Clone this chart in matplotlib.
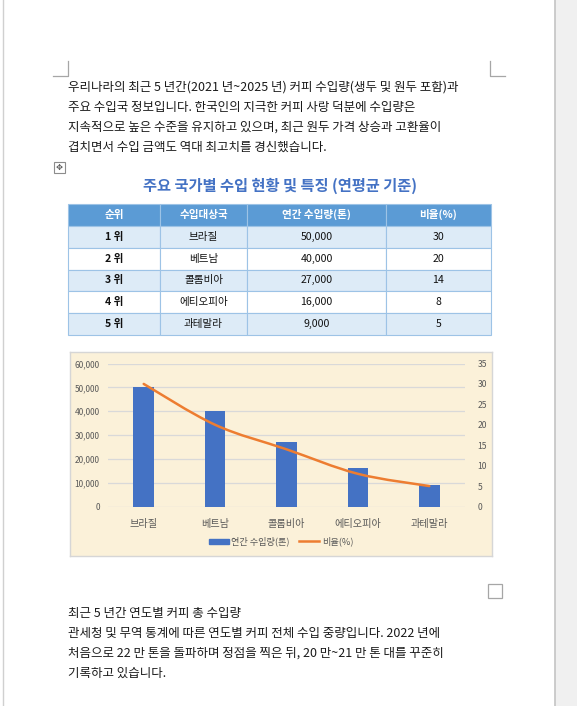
import numpy as np
import matplotlib.pyplot as plt
from matplotlib.path import Path
from matplotlib.patches import PathPatch, Rectangle
from matplotlib.lines import Line2D
from matplotlib.ticker import FuncFormatter

plt.rcParams['font.family'] = ['Noto Sans CJK KR', 'DejaVu Sans']

# data
countries = ['브라질', '베트남', '콜롬비아', '에티오피아', '과테말라']
ranks = ['1 위', '2 위', '3 위', '4 위', '5 위']
volume = [50000, 40000, 27000, 16000, 9000]
share = [30, 20, 14, 8, 5]
col_labels = ['순위', '수입대상국', '연간 수입량(톤)', '비율(%)']

intro_lines = [
    '우리나라의 최근 5 년간(2021 년~2025 년) 커피 수입량(생두 및 원두 포함)과',
    '주요 수입국 정보입니다. 한국인의 지극한 커피 사랑 덕분에 수입량은',
    '지속적으로 높은 수준을 유지하고 있으며, 최근 원두 가격 상승과 고환율이',
    '겹치면서 수입 금액도 역대 최고치를 경신했습니다.',
]
outro_lines = [
    '최근 5 년간 연도별 커피 총 수입량',
    '관세청 및 무역 통계에 따른 연도별 커피 전체 수입 중량입니다. 2022 년에',
    '처음으로 22 만 톤을 돌파하며 정점을 찍은 뒤, 20 만~21 만 톤 대를 꾸준히',
    '기록하고 있습니다.',
]
title = '주요 국가별 수입 현황 및 특징 (연평균 기준)'

W, H = 577, 706
fig = plt.figure(figsize=(W / 100, H / 100), dpi=100)


def rect(x0, y0, x1, y1):
    # pixel box -> figure fraction
    return [x0 / W, 1 - y1 / H, (x1 - x0) / W, (y1 - y0) / H]


# page layer in pixel coords
page = fig.add_axes([0, 0, 1, 1])
page.set_xlim(0, W)
page.set_ylim(H, 0)
page.axis('off')
page.add_patch(Rectangle((555, 0), 22, H, color='#f0f0f0', lw=0))
page.plot([554.5, 554.5], [0, H], color='#c4c4c4', lw=1.2)
page.plot([3, 3], [0, H], color='#d0d0d0', lw=1)
# margin marks
page.plot([53, 68, 68], [76, 76, 61], color='#a6a6a6', lw=0.9)
page.plot([490, 490, 505], [61, 76, 76], color='#a6a6a6', lw=0.9)
page.add_patch(Rectangle((488, 584), 14, 14, fill=False, ec='#a6a6a6', lw=0.9))
# table move handle
page.add_patch(Rectangle((54, 162), 11, 11, fill=False, ec='#8c8c8c', lw=0.8))
page.text(59.5, 167.5, '✥', ha='center', va='center', fontsize=6, color='#555555',
          family=['DejaVu Sans'])

for i, s in enumerate(intro_lines):
    page.text(68, 87 + 20 * i, s, fontsize=9, color='#1a1a1a', va='center')
for i, s in enumerate(outro_lines):
    page.text(68, 613 + 20 * i, s, fontsize=9, color='#1a1a1a', va='center')

page.text(280, 186, title, fontsize=11, color='#4472C4', weight='bold',
          ha='center', va='center')

# table
tax = fig.add_axes(rect(68, 204, 491, 335))
tax.axis('off')
cells = [[r, c, f'{v:,}', str(p)] for r, c, v, p in zip(ranks, countries, volume, share)]
tab = tax.table(cellText=cells, colLabels=col_labels, bbox=[0, 0, 1, 1],
                colWidths=[92, 87, 139, 105], cellLoc='center')
tab.auto_set_font_size(False)
for (r, c), cell in tab.get_celld().items():
    cell.set_edgecolor('#9dc3e6')
    cell.set_linewidth(0.8)
    txt = cell.get_text()
    txt.set_fontsize(7.6)
    if r == 0:
        cell.set_facecolor('#5b9bd5')
        txt.set_color('white')
        txt.set_weight('bold')
    else:
        cell.set_facecolor('#ddebf7' if r % 2 == 1 else 'white')
        txt.set_color('#111111')
        if c == 0:
            txt.set_weight('bold')

# chart box
box = fig.add_axes(rect(70, 352, 492, 556))
box.set_xticks([])
box.set_yticks([])
box.set_facecolor('#fbf1d9')
for sp in box.spines.values():
    sp.set_color('#d6d6d6')
    sp.set_linewidth(1)

ax = fig.add_axes(rect(108, 363.5, 465, 506.5))
ax.patch.set_alpha(0)
x = np.arange(len(countries))
ax.bar(x, volume, width=0.29, color='#4472c4', zorder=3)
ax.set_ylim(0, 60000)
ax.set_yticks(range(0, 60001, 10000))
ax.yaxis.set_major_formatter(FuncFormatter(lambda v, _: f'{int(v):,}'))
ax.set_xlim(-0.5, len(countries) - 0.5)
ax.set_xticks(x)
ax.set_xticklabels(countries)
ax.grid(axis='y', color='#d9d9d9', lw=0.9, zorder=0)
for sp in ax.spines.values():
    sp.set_visible(False)
ax.tick_params(length=0, labelsize=6, colors='#595959', pad=6)
ax.tick_params(axis='x', labelsize=7.3, pad=9)

ax2 = ax.twinx()
ax2.set_ylim(0, 35)
ax2.set_yticks(range(0, 36, 5))
for sp in ax2.spines.values():
    sp.set_visible(False)
ax2.tick_params(length=0, labelsize=6.2, colors='#595959', pad=9)

# smoothed line (Catmull-Rom bezier through the data points)
pts = np.column_stack([x, share]).astype(float)
ext = np.vstack([pts[0], pts, pts[-1]])
verts = [tuple(pts[0])]
codes = [Path.MOVETO]
for i in range(len(pts) - 1):
    p0, p1, p2, p3 = ext[i], ext[i + 1], ext[i + 2], ext[i + 3]
    verts += [tuple(p1 + (p2 - p0) / 6), tuple(p2 - (p3 - p1) / 6), tuple(p2)]
    codes += [Path.CURVE4] * 3
ax2.add_patch(PathPatch(Path(verts, codes), fill=False, ec='#ed7d31', lw=1.8,
                        capstyle='round', zorder=4))

handles = [Rectangle((0, 0), 1, 1, color='#4472c4'),
           Line2D([], [], color='#ed7d31', lw=1.8)]
box.legend(handles, ['연간 수입량(톤)', '비율(%)'], loc='center',
           bbox_to_anchor=(0.5, 1 - (541.5 - 352) / 204), ncol=2, frameon=False,
           fontsize=6.6, handlelength=2.2, handleheight=0.5, columnspacing=1.0,
           handletextpad=0.3, labelcolor='#595959')

fig.savefig('out.png', dpi=100)
